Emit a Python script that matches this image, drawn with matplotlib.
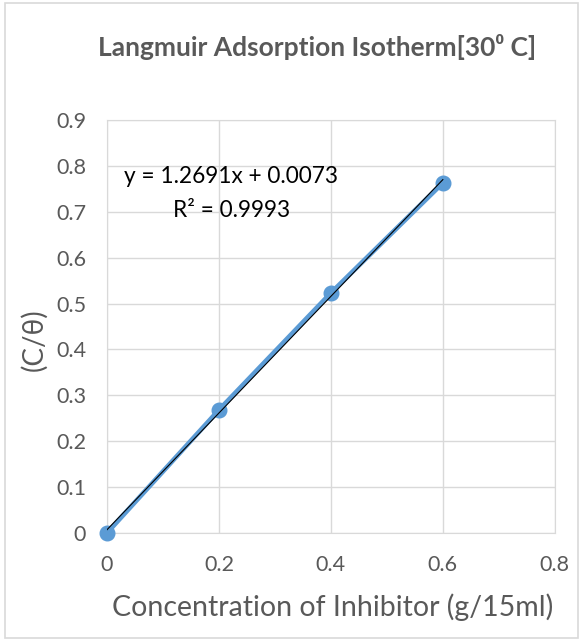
import matplotlib.pyplot as plt
import numpy as np

plt.rcParams['font.family'] = ['Lato', 'DejaVu Sans']

# Data
conc = [0.0, 0.2, 0.4, 0.6]
c_theta = [0.0, 0.268, 0.523, 0.763]

x_ticks = [0, 0.2, 0.4, 0.6, 0.8]
y_ticks = [0, 0.1, 0.2, 0.3, 0.4, 0.5, 0.6, 0.7, 0.8, 0.9]

blue = '#5b9bd5'
grey = '#595959'
grid_col = '#d9d9d9'

fig = plt.figure(figsize=(5.81, 6.41), dpi=100)
ax = fig.add_axes([0.184, 0.1685, 0.771, 0.6443])

# outer chart border like Excel
fig.patches.append(plt.Rectangle((0.008, 0.005), 0.986, 0.99, transform=fig.transFigure,
                                 fill=False, edgecolor='#d9d9d9', linewidth=1.2))

ax.plot(conc, c_theta, color=blue, linewidth=3.4, marker='o', markersize=10.5,
        zorder=3, clip_on=False)

# linear trendline
slope, intercept = np.polyfit(conc, c_theta, 1)
xs = np.array([conc[0], conc[-1]])
ax.plot(xs, slope * xs + intercept, color='black', linewidth=0.8, zorder=4)

ax.text(0.222, 0.777, 'y = 1.2691x + 0.0073', ha='center', va='center', fontsize=16.3, color='black')
ax.text(0.222, 0.703, 'R² = 0.9993', ha='center', va='center', fontsize=16.3, color='black')

ax.set_xlim(0, 0.8)
ax.set_ylim(0, 0.9)
ax.set_xticks(x_ticks)
ax.set_xticklabels(['0', '0.2', '0.4', '0.6', '0.8'])
ax.set_yticks(y_ticks)
ax.set_yticklabels(['0', '0.1', '0.2', '0.3', '0.4', '0.5', '0.6', '0.7', '0.8', '0.9'])
ax.tick_params(length=0, labelsize=15.5, labelcolor=grey)
ax.tick_params(axis='y', pad=15)
ax.tick_params(axis='x', pad=16)
ax.grid(color=grid_col, linewidth=1)
ax.set_axisbelow(True)
for s in ax.spines.values():
    s.set_color(grid_col)

fig.text(0.545, 0.927, 'Langmuir Adsorption Isotherm[30⁰ C]', ha='center', va='center',
         fontsize=19, fontweight='bold', color=grey)
fig.text(0.573, 0.053, 'Concentration of Inhibitor (g/15ml)', ha='center', va='center',
         fontsize=20.5, color=grey)
fig.text(0.058, 0.47, '(C/θ)', ha='center', va='center', rotation=90,
         fontsize=20, color=grey)

fig.savefig('out.png', dpi=100, facecolor='white')
